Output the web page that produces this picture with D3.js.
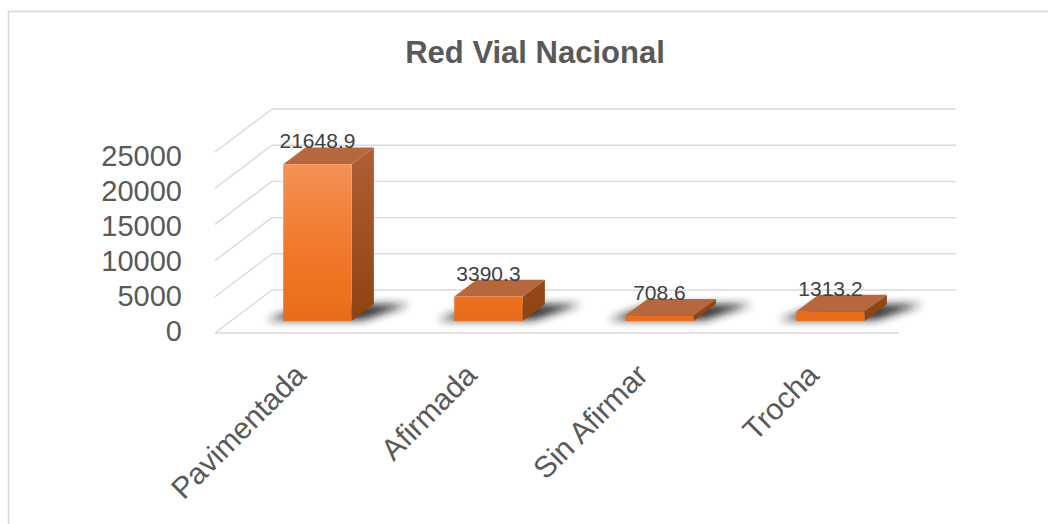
<!DOCTYPE html>
<html>
<head>
<meta charset="utf-8">
<script src="https://cdn.jsdelivr.net/npm/d3@7"></script>
<style>
  html, body { margin: 0; padding: 0; background: #fff; }
  svg { display: block; }
</style>
</head>
<body>
<svg id="chart" width="1048" height="524"></svg>
<script>
// Chart data
const title = "Red Vial Nacional";
const categories = ["Pavimentada", "Afirmada", "Sin Afirmar", "Trocha"];
const values = [21648.9, 3390.3, 708.6, 1313.2];
const yTicks = [0, 5000, 10000, 15000, 20000, 25000];

const svg = d3.select("#chart");

// Depth vector of the 3D floor (front edge -> back wall)
const DX = 57, DY = 43;
// Bar depth span inside the floor (fraction of the full depth)
const D0 = 0.28, D1 = 0.67;

const x = d3.scaleBand().domain(categories).range([216, 900])
  .paddingInner(0.6).paddingOuter(0.3);
const y = d3.scaleLinear().domain([0, 25000]).range([333, 152]);
const yLabel = d3.scaleLinear().domain([0, 25000]).range([330.5, 155.5]);

const proj = (xf, v, d) => [xf + d * DX, y(v) - d * DY];
const poly = pts => pts.map(p => p.join(",")).join(" ");

// Chart frame
svg.append("rect").attr("x", 8.5).attr("y", 11.5)
  .attr("width", 1100).attr("height", 600)
  .attr("fill", "#fff").attr("stroke", "#d9d9d9").attr("stroke-width", 1.6);

const defs = svg.append("defs");
const gFront = defs.append("linearGradient").attr("id", "gFront")
  .attr("gradientUnits", "userSpaceOnUse")
  .attr("x1", 0).attr("x2", 0).attr("y1", y(25000)).attr("y2", y(0) - D0 * DY);
gFront.append("stop").attr("offset", 0).attr("stop-color", "#f5955e");
gFront.append("stop").attr("offset", 0.55).attr("stop-color", "#f27a2a");
gFront.append("stop").attr("offset", 1).attr("stop-color", "#e96c1b");

const gSide = defs.append("linearGradient").attr("id", "gSide")
  .attr("gradientUnits", "userSpaceOnUse")
  .attr("x1", 0).attr("x2", 0).attr("y1", y(25000) - D1 * DY).attr("y2", y(0) - D0 * DY);
gSide.append("stop").attr("offset", 0).attr("stop-color", "#b4633a");
gSide.append("stop").attr("offset", 1).attr("stop-color", "#8e4312");

defs.append("filter").attr("id", "shadowBlur")
  .attr("x", "-50%").attr("y", "-50%").attr("width", "200%").attr("height", "200%")
  .append("feGaussianBlur").attr("stdDeviation", 4);

// Walls and floor gridlines
const x0 = x.range()[0] - 1, x1 = x.range()[1] - 1;
const grid = svg.append("g").attr("stroke", "#d9d9d9").attr("stroke-width", 1.4).attr("fill", "none");
grid.selectAll("line.back").data(yTicks).join("line").attr("class", "back")
  .attr("x1", x0 + DX).attr("x2", x1 + DX)
  .attr("y1", d => y(d) - DY).attr("y2", d => y(d) - DY);
grid.selectAll("line.side").data(yTicks).join("line").attr("class", "side")
  .attr("x1", x0).attr("x2", x0 + DX)
  .attr("y1", d => y(d)).attr("y2", d => y(d) - DY);
grid.append("line").attr("x1", x0).attr("x2", x1).attr("y1", y(0)).attr("y2", y(0));

// Value axis labels
svg.append("g").selectAll("text").data(yTicks).join("text")
  .attr("x", 182).attr("y", d => yLabel(d))
  .attr("dy", "0.36em")
  .attr("text-anchor", "end")
  .attr("font-family", "Liberation Sans, Arial, sans-serif")
  .attr("font-size", 29).attr("fill", "#595959")
  .text(d => d);

// Bars
const data = categories.map((c, i) => ({ c, v: values[i] }));
const bw = x.bandwidth();
const bars = svg.append("g").selectAll("g").data(data).join("g");

bars.append("polygon")
  .attr("points", d => {
    const l = x(d.c), r = l + bw;
    return poly([proj(l - 18, 0, D0 + 0.02), proj(r + 10, 0, D0 + 0.02),
                 proj(r + 36, 0, D1), proj(l + 4, 0, D1)]);
  })
  .attr("fill", "#1f1f1f").attr("opacity", 0.9).attr("filter", "url(#shadowBlur)");

bars.append("polygon")
  .attr("points", d => {
    const r = x(d.c) + bw;
    return poly([proj(r, 0, D0), proj(r, 0, D1), proj(r, d.v, D1), proj(r, d.v, D0)]);
  })
  .attr("fill", "url(#gSide)");

bars.append("polygon")
  .attr("points", d => {
    const l = x(d.c), r = l + bw;
    return poly([proj(l, d.v, D0), proj(r, d.v, D0), proj(r, d.v, D1), proj(l, d.v, D1)]);
  })
  .attr("fill", "#b6673d");

bars.append("polygon")
  .attr("points", d => {
    const l = x(d.c), r = l + bw;
    return poly([proj(l, 0, D0), proj(r, 0, D0), proj(r, d.v, D0), proj(l, d.v, D0)]);
  })
  .attr("fill", "url(#gFront)");

// Data labels
bars.append("text")
  .attr("x", d => proj(x(d.c) + bw / 2, d.v, D0)[0])
  .attr("y", d => proj(0, d.v, D1)[1] + 1)
  .attr("text-anchor", "middle")
  .attr("font-family", "Liberation Sans, Arial, sans-serif")
  .attr("font-size", 21).attr("fill", "#404040")
  .text(d => d.v.toFixed(1));

// Category labels
svg.append("g").selectAll("text").data(categories).join("text")
  .attr("transform", d => `translate(${x(d) + bw / 2 + 6},377) rotate(-45)`)
  .attr("text-anchor", "end")
  .attr("font-family", "Liberation Sans, Arial, sans-serif")
  .attr("font-size", 30).attr("fill", "#595959")
  .text(d => d);

// Title
svg.append("text")
  .attr("x", 535).attr("y", 63)
  .attr("text-anchor", "middle")
  .attr("font-family", "Liberation Sans, Arial, sans-serif")
  .attr("font-weight", "bold")
  .attr("font-size", 31).attr("fill", "#595959")
  .text(title);
</script>
</body>
</html>
